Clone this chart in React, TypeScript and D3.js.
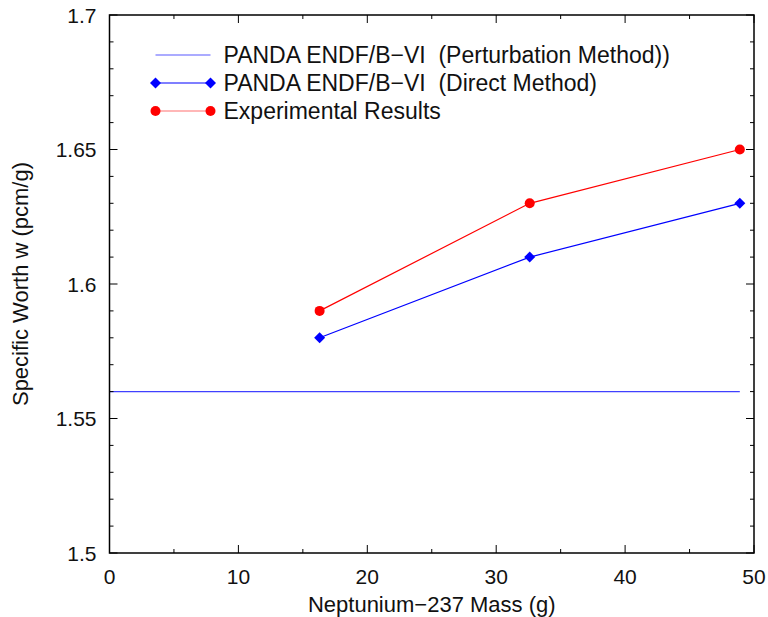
import * as d3 from 'd3';

const massValues = [16.3, 32.6, 48.9];
const directValues = [1.58, 1.61, 1.63];
const experimentalValues = [1.59, 1.63, 1.65];
const perturbationValue = 1.56;
const perturbationRange = [0, 48.9];
const xTicks = [0, 10, 20, 30, 40, 50];
const yTicks = [1.5, 1.55, 1.6, 1.65, 1.7];
const yTickLabels = ['1.5', '1.55', '1.6', '1.65', '1.7'];
const legendLabels = [
  'PANDA ENDF/B\u2212VI  (Perturbation Method))',
  'PANDA ENDF/B\u2212VI  (Direct Method)',
  'Experimental Results',
];

const WIDTH = 768;
const HEIGHT = 617;
const MARGIN = { top: 15, right: 14, bottom: 64, left: 109.5 };
const FONT = '"Liberation Sans", Arial, Helvetica, sans-serif';

export default function App() {
  const boundsWidth = WIDTH - MARGIN.left - MARGIN.right;
  const boundsHeight = HEIGHT - MARGIN.top - MARGIN.bottom;

  const xScale = d3.scaleLinear().domain([0, 50]).range([0, boundsWidth]);
  const yScale = d3.scaleLinear().domain([1.5, 1.7]).range([boundsHeight, 0]);

  const line = d3
    .line<[number, number]>()
    .x((d) => xScale(d[0]))
    .y((d) => yScale(d[1]));

  const direct = massValues.map((m, i) => [m, directValues[i]] as [number, number]);
  const experimental = massValues.map((m, i) => [m, experimentalValues[i]] as [number, number]);
  const perturbation = perturbationRange.map((m) => [m, perturbationValue] as [number, number]);

  // minor ticks every 5 on x, every 0.01 on y
  const xMinor = d3.range(5, 50, 10);
  const yMinor = d3.range(0, 21).map((i) => 1.5 + i * 0.01).filter((v) => Math.round(v * 100) % 5 !== 0);

  const diamond = (x: number, y: number, r = 5.5) =>
    `M${x},${y - r}L${x + r},${y}L${x},${y + r}L${x - r},${y}Z`;

  return (
    <svg
      width={WIDTH}
      height={HEIGHT}
      style={{ position: 'absolute', left: 0, top: 0, background: '#fff' }}
      fontFamily={FONT}
    >
      <g transform={`translate(${MARGIN.left},${MARGIN.top})`}>
        {/* series */}
        <path d={line(perturbation) ?? ''} fill="none" stroke="#4040ff" strokeWidth={1.2} />
        <path d={line(direct) ?? ''} fill="none" stroke="#0000ff" strokeWidth={1.2} />
        {direct.map((d, i) => (
          <path key={i} d={diamond(xScale(d[0]), yScale(d[1]))} fill="#0000ff" />
        ))}
        <path d={line(experimental) ?? ''} fill="none" stroke="#ff0000" strokeWidth={1.2} />
        {experimental.map((d, i) => (
          <circle key={i} cx={xScale(d[0])} cy={yScale(d[1])} r={5} fill="#ff0000" />
        ))}

        {/* frame */}
        <rect x={0} y={0} width={boundsWidth} height={boundsHeight} fill="none" stroke="#000" strokeWidth={1.5} />

        {/* x ticks */}
        {xTicks.map((t) => (
          <g key={t}>
            <line x1={xScale(t)} x2={xScale(t)} y1={boundsHeight} y2={boundsHeight - 8} stroke="#000" />
            <line x1={xScale(t)} x2={xScale(t)} y1={0} y2={8} stroke="#000" />
            <text x={xScale(t)} y={boundsHeight + 31} textAnchor="middle" fontSize={21} fill="#111">
              {t}
            </text>
          </g>
        ))}
        {xMinor.map((t) => (
          <g key={t}>
            <line x1={xScale(t)} x2={xScale(t)} y1={boundsHeight} y2={boundsHeight - 4} stroke="#000" />
            <line x1={xScale(t)} x2={xScale(t)} y1={0} y2={4} stroke="#000" />
          </g>
        ))}

        {/* y ticks */}
        {yTicks.map((t, i) => (
          <g key={t}>
            <line x1={0} x2={8} y1={yScale(t)} y2={yScale(t)} stroke="#000" />
            <line x1={boundsWidth} x2={boundsWidth - 8} y1={yScale(t)} y2={yScale(t)} stroke="#000" />
            <text x={-13} y={yScale(t) + 7.5} textAnchor="end" fontSize={21} fill="#111">
              {yTickLabels[i]}
            </text>
          </g>
        ))}
        {yMinor.map((t) => (
          <g key={t}>
            <line x1={0} x2={4} y1={yScale(t)} y2={yScale(t)} stroke="#000" />
            <line x1={boundsWidth} x2={boundsWidth - 4} y1={yScale(t)} y2={yScale(t)} stroke="#000" />
          </g>
        ))}

        {/* legend */}
        <line x1={46} x2={101} y1={40} y2={40} stroke="#5858ff" strokeWidth={1.2} />
        <line x1={46} x2={101} y1={68} y2={68} stroke="#0000ff" strokeWidth={1.2} />
        <path d={diamond(46, 68)} fill="#0000ff" />
        <path d={diamond(101, 68)} fill="#0000ff" />
        <line x1={46} x2={101} y1={96} y2={96} stroke="#ff7070" strokeWidth={1.2} />
        <circle cx={46} cy={96} r={5} fill="#ff0000" />
        <circle cx={101} cy={96} r={5} fill="#ff0000" />
        {legendLabels.map((l, i) => (
          <text key={l} x={114} y={40 + i * 28 + 8} fontSize={23} fill="#111" style={{ whiteSpace: 'pre' }}>
            {l}
          </text>
        ))}
      </g>

      {/* axis titles */}
      <text x={MARGIN.left + boundsWidth / 2} y={612} textAnchor="middle" fontSize={22} fill="#111">
        Neptunium{'\u2212'}237 Mass (g)
      </text>
      <text
        transform={`translate(28,${MARGIN.top + boundsHeight / 2}) rotate(-90)`}
        textAnchor="middle"
        fontSize={22}
        fill="#111"
      >
        Specific Worth w (pcm/g)
      </text>
    </svg>
  );
}
